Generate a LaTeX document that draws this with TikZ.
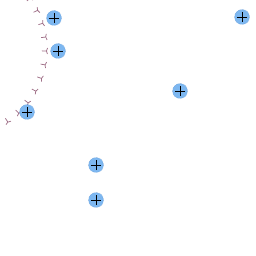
\documentclass[tikz,border=0pt]{standalone}
\usetikzlibrary{decorations.markings}
\definecolor{ptfill}{HTML}{7DB7F0}
\definecolor{ptedge}{HTML}{5A8CC8}
\definecolor{arcc}{HTML}{A07088}
\begin{document}
\begin{tikzpicture}[x=1pt,y=-1pt,
  pt/.style={circle,fill=ptfill,draw=ptedge,densely dotted,minimum size=15pt,inner sep=0pt,
    path picture={\draw[black,solid,line width=0.9pt] ([xshift=-5pt]path picture bounding box.center)--([xshift=5pt]path picture bounding box.center)
      ([yshift=-5pt]path picture bounding box.center)--([yshift=5pt]path picture bounding box.center);}},
  arcmark/.style={draw=none,postaction={decorate},decoration={markings,
    mark=between positions 0.01 and 1 step 14pt with {\draw[arcc,line width=0.75pt] (-3pt,1pt)--(0,0)--(3pt,1pt) (0,0)--(0,-4.5pt);}}}]
\useasboundingbox (0,0) rectangle (256,256);
\begin{scope}
\clip (0,0) rectangle (256,256);
\coordinate (c) at (-42,49);
\path[arcmark] (c) ++(-36:88.5) arc[start angle=-36,end angle=66,radius=88.5];
\end{scope}
\node[pt] (p1) at (54,18) {};
\node[pt] (p2) at (58,51) {};
\node[pt] (p3) at (27,112) {};
\node[pt] (p4) at (180,91) {};
\node[pt] (p5) at (242,17) {};
\node[pt] (p6) at (96,165) {};
\node[pt] (p7) at (96,200) {};
\end{tikzpicture}
\end{document}
